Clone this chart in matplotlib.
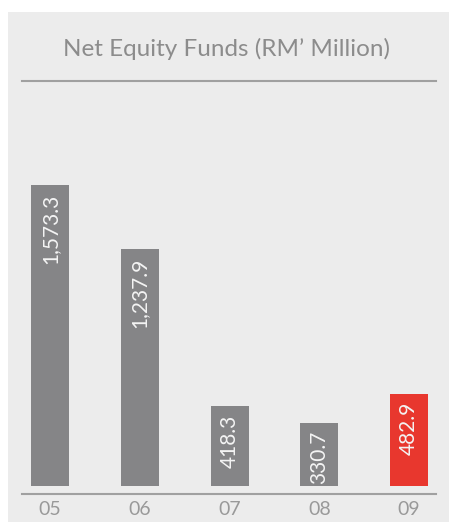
import matplotlib.pyplot as plt
from matplotlib.patches import Rectangle
from matplotlib.lines import Line2D

years = ['05', '06', '07', '08', '09']
values = [1573.3, 1237.9, 418.3, 330.7, 482.9]
labels = ['1,573.3', '1,237.9', '418.3', '330.7', '482.9']
colors = ['#858587', '#858587', '#858587', '#858587', '#e8372e']

W, H = 449, 522
fig = plt.figure(figsize=(W / 100, H / 100), dpi=100)
fig.patch.set_facecolor('white')

# grey panel behind everything
fig.add_artist(Rectangle((8 / W, 0), 1, 1 - 12 / H, transform=fig.transFigure,
                         facecolor='#ececec', edgecolor='none', zorder=0))

# title + rule
fig.text(226 / W, 1 - 49 / H, "Net Equity Funds (RM\u2019 Million)", ha='center', va='center',
         fontsize=17.5, color='#8c8c8c', family='Lato')
fig.add_artist(Line2D([22 / W, 436 / W], [1 - 81 / H] * 2, transform=fig.transFigure,
                      color='#a0a0a0', lw=1.5))
# baseline
fig.add_artist(Line2D([22 / W, 436 / W], [1 - 494 / H] * 2, transform=fig.transFigure,
                      color='#a0a0a0', lw=1.5))

# axes: bottom at bar base (y=486px), top at 100px
ax = fig.add_axes([22 / W, 1 - 486 / H, (436 - 22) / W, (486 - 100) / H])
ax.set_facecolor('none')
scale = 301 / 1573.3
ax.set_ylim(0, 386 / scale)
ax.set_xlim(-(50 - 22) / 89.75, 4 + (436 - 409) / 89.75)

x = range(len(years))
ax.bar(x, values, width=38 / 89.75, color=colors, zorder=2)
for i, (v, t) in enumerate(zip(values, labels)):
    ax.annotate(t, (i, v), xytext=(0, -6), textcoords='offset points',
                rotation=90, ha='center', va='top', color='#f4f4f4',
                fontsize=15, family='Lato', zorder=3)

ax.set_xticks(list(x))
ax.set_xticklabels(years, fontsize=14, color='#999999', family='Lato')
ax.tick_params(axis='x', length=0, pad=11)
ax.set_yticks([])
for s in ax.spines.values():
    s.set_visible(False)

fig.savefig('out.png', dpi=100)
